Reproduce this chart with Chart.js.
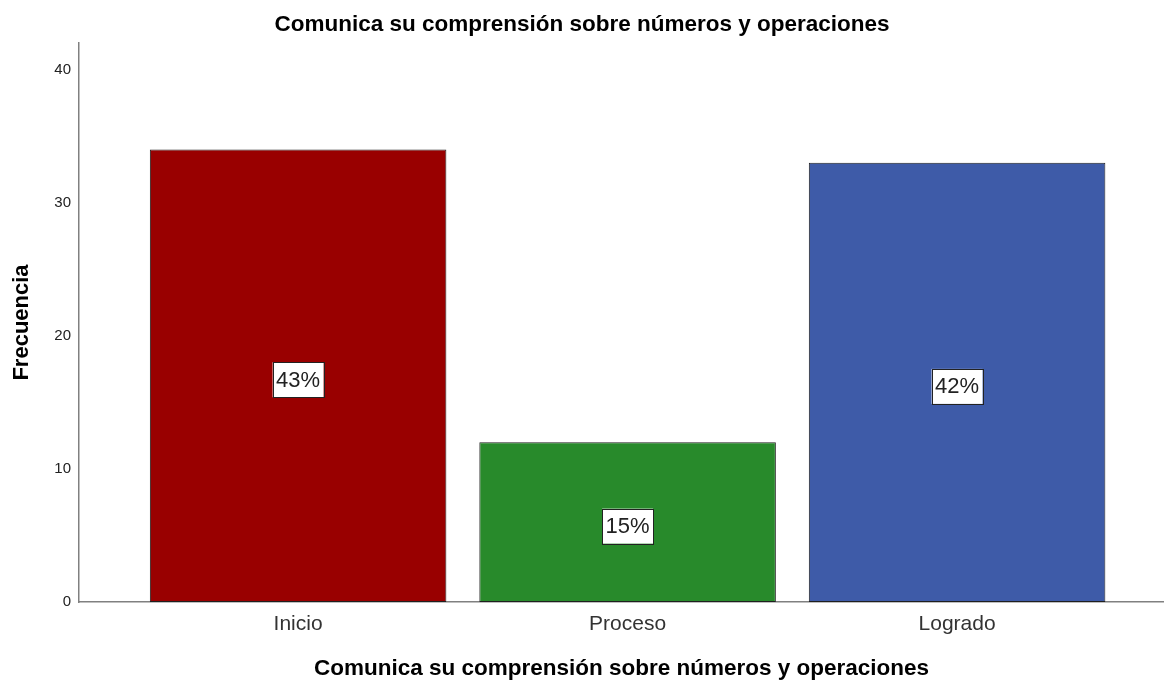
<!DOCTYPE html>
<html lang="es">
<head>
    <meta charset="UTF-8">
    <title>Comunica su comprensión sobre números y operaciones</title>
    <script src="https://cdn.jsdelivr.net/npm/chart.js"></script>
    <style>
        body { margin: 0; background: #fff; }
        canvas { display: block; }
    </style>
</head>
<body>
    <canvas id="chart" width="1164" height="681"></canvas>

    <script>
        // data
        const categories = ['Inicio', 'Proceso', 'Logrado'];
        const frecuencia = [34, 12, 33];
        const porcentajes = ['43%', '15%', '42%'];
        const barColors = ['#990000', '#288a2b', '#3e5ba8'];
        const yTicks = [0, 10, 20, 30, 40];

        const titleText = 'Comunica su comprensión sobre números y operaciones';
        const fontFamily = '"Liberation Sans", Arial, sans-serif';

        // white boxes with the percentage in the middle of each bar
        const percentLabels = {
            id: 'percentLabels',
            afterDatasetsDraw(chart) {
                const ctx = chart.ctx;
                const meta = chart.getDatasetMeta(0);
                ctx.save();
                ctx.font = '22px ' + fontFamily;
                ctx.textAlign = 'center';
                ctx.textBaseline = 'middle';
                meta.data.forEach((bar, i) => {
                    const cx = bar.x;
                    const cy = (bar.y + bar.base) / 2 + 4;
                    const w = 51, h = 35;
                    ctx.fillStyle = '#fff';
                    ctx.fillRect(cx - w / 2, cy - h / 2, w, h);
                    ctx.strokeStyle = '#222';
                    ctx.lineWidth = 1;
                    ctx.strokeRect(Math.round(cx - w / 2) + 0.5, Math.round(cy - h / 2) + 0.5, w, h);
                    ctx.fillStyle = '#222';
                    ctx.fillText(porcentajes[i], cx, cy + 1);
                });
                ctx.restore();
            }
        };

        let ctx = document.getElementById('chart').getContext('2d');

        new Chart(ctx, {
            type: 'bar',
            data: {
                datasets: [{
                    label: 'Frecuencia',
                    data: frecuencia.map((v, i) => ({ x: i + 1, y: v })),
                    backgroundColor: barColors,
                    borderColor: '#1f1f1f',
                    borderWidth: 1,
                    borderSkipped: false,
                    categoryPercentage: 1.0,
                    barPercentage: 0.9
                }]
            },
            options: {
                responsive: false,
                animation: false,
                layout: { padding: 0 },
                plugins: {
                    legend: { display: false },
                    tooltip: { enabled: false },
                    title: {
                        display: true,
                        text: titleText,
                        color: '#000',
                        font: { family: fontFamily, size: 22.5, weight: 'bold', lineHeight: 1.2 },
                        padding: { top: 11, bottom: 5 }
                    }
                },
                scales: {
                    x: {
                        type: 'linear',
                        offset: false,
                        min: 0.335,
                        max: 3.628,
                        grid: { display: false, drawTicks: false, offset: false },
                        border: { display: true, color: '#808080', width: 1.5 },
                        afterBuildTicks: (scale) => {
                            scale.ticks = categories.map((c, i) => ({ value: i + 1 }));
                        },
                        afterFit: (scale) => { scale.height = 79; },
                        ticks: {
                            padding: 10,
                            color: '#333',
                            font: { family: fontFamily, size: 21, lineHeight: 1.2 },
                            callback: (v) => categories[v - 1]
                        },
                        title: {
                            display: true,
                            text: titleText,
                            color: '#000',
                            font: { family: fontFamily, size: 22.5, weight: 'bold', lineHeight: 1 },
                            padding: { top: 4, bottom: 1 }
                        }
                    },
                    y: {
                        min: 0,
                        max: 42,
                        grid: { display: false, drawTicks: false },
                        border: { display: true, color: '#808080', width: 1.5 },
                        afterBuildTicks: (scale) => {
                            scale.ticks = yTicks.map(v => ({ value: v }));
                        },
                        afterFit: (scale) => { scale.width = 79; },
                        ticks: {
                            padding: 8,
                            color: '#222',
                            font: { family: fontFamily, size: 15 }
                        },
                        title: {
                            display: true,
                            text: 'Frecuencia',
                            color: '#000',
                            font: { family: fontFamily, size: 22, weight: 'bold', lineHeight: 1 },
                            padding: { top: 11, bottom: 4 }
                        }
                    }
                }
            },
            plugins: [percentLabels]
        });
    </script>
</body>
</html>
